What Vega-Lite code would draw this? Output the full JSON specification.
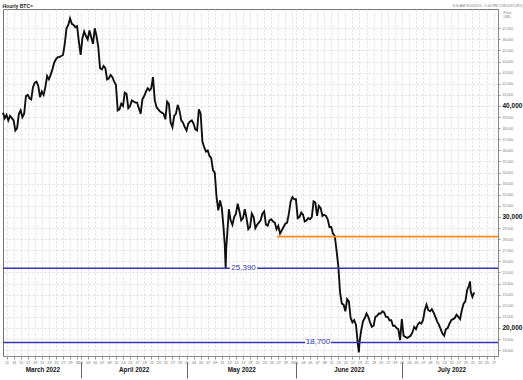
{
  "$schema": "https://vega.github.io/schema/vega-lite/v6.json",
  "autosize": {"type": "none"},
  "width": 495,
  "height": 347,
  "padding": {"left": 3, "top": 9, "right": 25, "bottom": 24},
  "background": "white",
  "config": {
    "font": "Liberation Sans",
    "view": {"stroke": "#777", "strokeWidth": 1}
  },
  "datasets": {
    "price": [
      {"t":"2022-03-10T00:00","p":39400},{"t":"2022-03-10T12:00","p":38900},
      {"t":"2022-03-11T00:00","p":39200},{"t":"2022-03-11T12:00","p":38700},
      {"t":"2022-03-12T00:00","p":39100},{"t":"2022-03-12T12:00","p":38900},
      {"t":"2022-03-13T00:00","p":38700},{"t":"2022-03-13T12:00","p":37800},
      {"t":"2022-03-14T00:00","p":38000},{"t":"2022-03-14T12:00","p":39300},
      {"t":"2022-03-15T00:00","p":39600},{"t":"2022-03-15T12:00","p":39000},
      {"t":"2022-03-16T00:00","p":39300},{"t":"2022-03-16T12:00","p":40900},
      {"t":"2022-03-17T00:00","p":41000},{"t":"2022-03-17T12:00","p":40700},
      {"t":"2022-03-18T00:00","p":40600},{"t":"2022-03-18T12:00","p":41700},
      {"t":"2022-03-19T00:00","p":42100},{"t":"2022-03-19T12:00","p":42200},
      {"t":"2022-03-20T00:00","p":41800},{"t":"2022-03-20T12:00","p":40800},
      {"t":"2022-03-21T00:00","p":41300},{"t":"2022-03-21T12:00","p":41000},
      {"t":"2022-03-22T00:00","p":41700},{"t":"2022-03-22T12:00","p":42700},
      {"t":"2022-03-23T00:00","p":42400},{"t":"2022-03-23T12:00","p":42800},
      {"t":"2022-03-24T00:00","p":43300},{"t":"2022-03-24T12:00","p":43900},
      {"t":"2022-03-25T00:00","p":44200},{"t":"2022-03-25T12:00","p":44400},
      {"t":"2022-03-26T00:00","p":44400},{"t":"2022-03-26T12:00","p":44500},
      {"t":"2022-03-27T00:00","p":44600},{"t":"2022-03-27T12:00","p":45600},
      {"t":"2022-03-28T00:00","p":47000},{"t":"2022-03-28T12:00","p":47300},
      {"t":"2022-03-29T00:00","p":47900},{"t":"2022-03-29T12:00","p":47400},
      {"t":"2022-03-30T00:00","p":47300},{"t":"2022-03-30T12:00","p":47100},
      {"t":"2022-03-31T00:00","p":47200},{"t":"2022-03-31T12:00","p":45800},
      {"t":"2022-04-01T00:00","p":44600},{"t":"2022-04-01T12:00","p":46100},
      {"t":"2022-04-02T00:00","p":46700},{"t":"2022-04-02T12:00","p":46300},
      {"t":"2022-04-03T00:00","p":46000},{"t":"2022-04-03T12:00","p":46800},
      {"t":"2022-04-04T00:00","p":46200},{"t":"2022-04-04T12:00","p":45600},
      {"t":"2022-04-05T00:00","p":47000},{"t":"2022-04-05T12:00","p":46300},
      {"t":"2022-04-06T00:00","p":45300},{"t":"2022-04-06T12:00","p":43400},
      {"t":"2022-04-07T00:00","p":43300},{"t":"2022-04-07T12:00","p":43600},
      {"t":"2022-04-08T00:00","p":43400},{"t":"2022-04-08T12:00","p":42400},
      {"t":"2022-04-09T00:00","p":42500},{"t":"2022-04-09T12:00","p":42800},
      {"t":"2022-04-10T00:00","p":42600},{"t":"2022-04-10T12:00","p":42200},
      {"t":"2022-04-11T00:00","p":41900},{"t":"2022-04-11T12:00","p":39600},
      {"t":"2022-04-12T00:00","p":39700},{"t":"2022-04-12T12:00","p":40200},
      {"t":"2022-04-13T00:00","p":40000},{"t":"2022-04-13T12:00","p":41200},
      {"t":"2022-04-14T00:00","p":41100},{"t":"2022-04-14T12:00","p":39800},
      {"t":"2022-04-15T00:00","p":40000},{"t":"2022-04-15T12:00","p":40500},
      {"t":"2022-04-16T00:00","p":40400},{"t":"2022-04-16T12:00","p":40300},
      {"t":"2022-04-17T00:00","p":40300},{"t":"2022-04-17T12:00","p":39800},
      {"t":"2022-04-18T00:00","p":39300},{"t":"2022-04-18T12:00","p":40600},
      {"t":"2022-04-19T00:00","p":40900},{"t":"2022-04-19T12:00","p":41300},
      {"t":"2022-04-20T00:00","p":41600},{"t":"2022-04-20T12:00","p":41400},
      {"t":"2022-04-21T00:00","p":41600},{"t":"2022-04-21T12:00","p":42600},
      {"t":"2022-04-22T00:00","p":40500},{"t":"2022-04-22T12:00","p":39900},
      {"t":"2022-04-23T00:00","p":39700},{"t":"2022-04-23T12:00","p":39500},
      {"t":"2022-04-24T00:00","p":39400},{"t":"2022-04-24T12:00","p":39300},
      {"t":"2022-04-25T00:00","p":38800},{"t":"2022-04-25T12:00","p":40400},
      {"t":"2022-04-26T00:00","p":40200},{"t":"2022-04-26T12:00","p":38500},
      {"t":"2022-04-27T00:00","p":38100},{"t":"2022-04-27T12:00","p":39100},
      {"t":"2022-04-28T00:00","p":39300},{"t":"2022-04-28T12:00","p":40100},
      {"t":"2022-04-29T00:00","p":39600},{"t":"2022-04-29T12:00","p":38700},
      {"t":"2022-04-30T00:00","p":38500},{"t":"2022-04-30T12:00","p":38100},
      {"t":"2022-05-01T00:00","p":37800},{"t":"2022-05-01T12:00","p":38400},
      {"t":"2022-05-02T00:00","p":38600},{"t":"2022-05-02T12:00","p":38700},
      {"t":"2022-05-03T00:00","p":38400},{"t":"2022-05-03T12:00","p":37900},
      {"t":"2022-05-04T00:00","p":37800},{"t":"2022-05-04T12:00","p":39700},
      {"t":"2022-05-05T00:00","p":39300},{"t":"2022-05-05T12:00","p":36800},
      {"t":"2022-05-06T00:00","p":36300},{"t":"2022-05-06T12:00","p":35900},
      {"t":"2022-05-07T00:00","p":36000},{"t":"2022-05-07T12:00","p":35500},
      {"t":"2022-05-08T00:00","p":35300},{"t":"2022-05-08T12:00","p":34200},
      {"t":"2022-05-09T00:00","p":34000},{"t":"2022-05-09T12:00","p":31800},
      {"t":"2022-05-10T00:00","p":30600},{"t":"2022-05-10T12:00","p":31500},
      {"t":"2022-05-11T00:00","p":30800},{"t":"2022-05-11T12:00","p":29000},
      {"t":"2022-05-11T20:00","p":27500},{"t":"2022-05-12T02:00","p":25400},
      {"t":"2022-05-12T06:00","p":27200},{"t":"2022-05-12T12:00","p":28300},
      {"t":"2022-05-13T00:00","p":30700},{"t":"2022-05-13T12:00","p":29700},
      {"t":"2022-05-14T00:00","p":29300},{"t":"2022-05-14T12:00","p":30000},
      {"t":"2022-05-15T00:00","p":30300},{"t":"2022-05-15T12:00","p":31200},
      {"t":"2022-05-16T00:00","p":30500},{"t":"2022-05-16T12:00","p":29700},
      {"t":"2022-05-17T00:00","p":29900},{"t":"2022-05-17T12:00","p":30700},
      {"t":"2022-05-18T00:00","p":29900},{"t":"2022-05-18T12:00","p":28900},
      {"t":"2022-05-19T00:00","p":29100},{"t":"2022-05-19T12:00","p":30300},
      {"t":"2022-05-20T00:00","p":30000},{"t":"2022-05-20T12:00","p":29000},
      {"t":"2022-05-21T00:00","p":29300},{"t":"2022-05-21T12:00","p":29500},
      {"t":"2022-05-22T00:00","p":29700},{"t":"2022-05-22T12:00","p":30300},
      {"t":"2022-05-23T00:00","p":30500},{"t":"2022-05-23T12:00","p":29300},
      {"t":"2022-05-24T00:00","p":29200},{"t":"2022-05-24T12:00","p":29700},
      {"t":"2022-05-25T00:00","p":29800},{"t":"2022-05-25T12:00","p":29600},
      {"t":"2022-05-26T00:00","p":29500},{"t":"2022-05-26T12:00","p":28900},
      {"t":"2022-05-27T00:00","p":29200},{"t":"2022-05-27T12:00","p":28500},
      {"t":"2022-05-28T00:00","p":28800},{"t":"2022-05-28T12:00","p":29100},
      {"t":"2022-05-29T00:00","p":29400},{"t":"2022-05-29T12:00","p":29500},
      {"t":"2022-05-30T00:00","p":30300},{"t":"2022-05-30T12:00","p":31400},
      {"t":"2022-05-31T00:00","p":31800},{"t":"2022-05-31T12:00","p":31600},
      {"t":"2022-06-01T00:00","p":31600},{"t":"2022-06-01T12:00","p":29900},
      {"t":"2022-06-02T00:00","p":30000},{"t":"2022-06-02T12:00","p":30400},
      {"t":"2022-06-03T00:00","p":30200},{"t":"2022-06-03T12:00","p":29600},
      {"t":"2022-06-04T00:00","p":29700},{"t":"2022-06-04T12:00","p":29900},
      {"t":"2022-06-05T00:00","p":29800},{"t":"2022-06-05T12:00","p":30000},
      {"t":"2022-06-06T00:00","p":31400},{"t":"2022-06-06T12:00","p":31300},
      {"t":"2022-06-07T00:00","p":30100},{"t":"2022-06-07T12:00","p":31000},
      {"t":"2022-06-08T00:00","p":30800},{"t":"2022-06-08T12:00","p":30100},
      {"t":"2022-06-09T00:00","p":30200},{"t":"2022-06-09T12:00","p":30100},
      {"t":"2022-06-10T00:00","p":29800},{"t":"2022-06-10T12:00","p":29100},
      {"t":"2022-06-11T00:00","p":29100},{"t":"2022-06-11T12:00","p":28500},
      {"t":"2022-06-12T00:00","p":28300},{"t":"2022-06-12T12:00","p":27000},
      {"t":"2022-06-13T00:00","p":25600},{"t":"2022-06-13T12:00","p":23200},
      {"t":"2022-06-14T00:00","p":22200},{"t":"2022-06-14T12:00","p":22100},
      {"t":"2022-06-15T00:00","p":21500},{"t":"2022-06-15T12:00","p":22600},
      {"t":"2022-06-16T00:00","p":22400},{"t":"2022-06-16T12:00","p":20900},
      {"t":"2022-06-17T00:00","p":20500},{"t":"2022-06-17T12:00","p":20700},
      {"t":"2022-06-18T00:00","p":20300},{"t":"2022-06-18T12:00","p":18700},
      {"t":"2022-06-18T20:00","p":17800},
      {"t":"2022-06-19T00:00","p":18700},{"t":"2022-06-19T12:00","p":19800},
      {"t":"2022-06-20T00:00","p":20600},{"t":"2022-06-20T12:00","p":20900},
      {"t":"2022-06-21T00:00","p":21300},{"t":"2022-06-21T12:00","p":21000},
      {"t":"2022-06-22T00:00","p":20500},{"t":"2022-06-22T12:00","p":20100},
      {"t":"2022-06-23T00:00","p":20200},{"t":"2022-06-23T12:00","p":21000},
      {"t":"2022-06-24T00:00","p":21100},{"t":"2022-06-24T12:00","p":21300},
      {"t":"2022-06-25T00:00","p":21300},{"t":"2022-06-25T12:00","p":21500},
      {"t":"2022-06-26T00:00","p":21400},{"t":"2022-06-26T12:00","p":21000},
      {"t":"2022-06-27T00:00","p":21000},{"t":"2022-06-27T12:00","p":20700},
      {"t":"2022-06-28T00:00","p":20700},{"t":"2022-06-28T12:00","p":20200},
      {"t":"2022-06-29T00:00","p":20200},{"t":"2022-06-29T12:00","p":20000},
      {"t":"2022-06-30T00:00","p":19900},{"t":"2022-06-30T12:00","p":18900},
      {"t":"2022-07-01T00:00","p":20800},{"t":"2022-07-01T12:00","p":19300},
      {"t":"2022-07-02T00:00","p":19200},{"t":"2022-07-02T12:00","p":19100},
      {"t":"2022-07-03T00:00","p":19200},{"t":"2022-07-03T12:00","p":19300},
      {"t":"2022-07-04T00:00","p":19600},{"t":"2022-07-04T12:00","p":20100},
      {"t":"2022-07-05T00:00","p":19900},{"t":"2022-07-05T12:00","p":20300},
      {"t":"2022-07-06T00:00","p":20500},{"t":"2022-07-06T12:00","p":20400},
      {"t":"2022-07-07T00:00","p":20700},{"t":"2022-07-07T12:00","p":21600},
      {"t":"2022-07-08T00:00","p":22100},{"t":"2022-07-08T12:00","p":21600},
      {"t":"2022-07-09T00:00","p":21500},{"t":"2022-07-09T12:00","p":21700},
      {"t":"2022-07-10T00:00","p":21400},{"t":"2022-07-10T12:00","p":21000},
      {"t":"2022-07-11T00:00","p":20600},{"t":"2022-07-11T12:00","p":20300},
      {"t":"2022-07-12T00:00","p":19900},{"t":"2022-07-12T12:00","p":19500},
      {"t":"2022-07-13T00:00","p":19300},{"t":"2022-07-13T12:00","p":19900},
      {"t":"2022-07-14T00:00","p":20000},{"t":"2022-07-14T12:00","p":20400},
      {"t":"2022-07-15T00:00","p":20700},{"t":"2022-07-15T12:00","p":20800},
      {"t":"2022-07-16T00:00","p":20900},{"t":"2022-07-16T12:00","p":21200},
      {"t":"2022-07-17T00:00","p":21000},{"t":"2022-07-17T12:00","p":20800},
      {"t":"2022-07-18T00:00","p":21600},{"t":"2022-07-18T12:00","p":22200},
      {"t":"2022-07-19T00:00","p":22400},{"t":"2022-07-19T12:00","p":23400},
      {"t":"2022-07-20T00:00","p":23800},{"t":"2022-07-20T08:00","p":24200},
      {"t":"2022-07-20T12:00","p":23300},
      {"t":"2022-07-21T00:00","p":22800},{"t":"2022-07-21T12:00","p":23200}
    ],
    "levels": [
      {"s":"2022-03-10T00:00","e":"2022-05-13T06:00","p":25390},
      {"s":"2022-05-21T00:00","e":"2022-07-28T06:00","p":25390},
      {"s":"2022-03-10T00:00","e":"2022-06-03T14:00","p":18700},
      {"s":"2022-06-10T22:00","e":"2022-07-28T06:00","p":18700}
    ],
    "orange": [
      {"s":"2022-05-26T15:00","e":"2022-07-28T06:00","p":28230}
    ],
    "labels": [
      {"t":"2022-05-17T04:00","p":25390,"label":"25,390"},
      {"t":"2022-06-07T06:00","p":18700,"label":"18,700"}
    ]
  },
  "resolve": {"axis": {"x": "independent", "y": "independent"}},
  "layer": [
    {
      "data": {"name": "price"},
      "mark": {"type": "line", "color": "#111", "strokeWidth": 1.9, "strokeJoin": "miter"},
      "encoding": {
        "x": {"field": "t", "type": "temporal",
          "scale": {"domain": [{"year":2022,"month":3,"date":10,"hours":0},{"year":2022,"month":7,"date":28,"hours":6}], "nice": false},
          "axis": {"orient": "bottom", "title": null, "tickCount": {"interval": "day", "step": 2}, "format": "%d",
            "labelFontSize": 3.5, "labelColor": "#666", "labelPadding": 1, "labelFlush": false, "labelOverlap": false,
            "tickSize": 3, "tickColor": "#999", "domainColor": "#888",
            "grid": true, "gridColor": "#d6d6d6", "gridDash": [2, 2], "gridWidth": 0.8}},
        "y": {"field": "p", "type": "quantitative",
          "scale": {"domain": [17477, 48738], "nice": false, "zero": false},
          "axis": {"orient": "right",
            "values": [18000,19000,20000,21000,22000,23000,24000,25000,26000,27000,28000,29000,30000,31000,32000,33000,34000,35000,36000,37000,38000,39000,40000,41000,42000,43000,44000,45000,46000,47000],
            "labelExpr": "format(datum.value, ',')",
            "labelFontSize": {"condition": {"test": "datum.value % 10000 === 0", "value": 6.5}, "value": 3.5},
            "labelFontWeight": {"condition": {"test": "datum.value % 10000 === 0", "value": "bold"}, "value": "normal"},
            "labelColor": {"condition": {"test": "datum.value % 10000 === 0", "value": "#111"}, "value": "#777"},
            "labelPadding": 2, "labelFlush": false, "labelOverlap": false, "labelBound": false,
            "tickSize": 2, "tickColor": "#999", "domainColor": "#888",
            "grid": true, "gridColor": "#d6d6d6", "gridDash": [2, 2], "gridWidth": 0.8,
            "title": ["Price", "USD"], "titleAngle": 0, "titleX": 5, "titleY": 1, "titleAlign": "left", "titleBaseline": "top",
            "titleFontSize": 3.5, "titleFontWeight": "normal", "titleColor": "#777", "titleLineHeight": 4.5}}
      }
    },
    {
      "data": {"name": "levels"},
      "mark": {"type": "rule", "color": "#3434b8", "strokeWidth": 1.5},
      "encoding": {
        "x": {"field": "s", "type": "temporal", "axis": null,
          "scale": {"domain": [{"year":2022,"month":3,"date":10,"hours":0},{"year":2022,"month":7,"date":28,"hours":6}], "nice": false}},
        "x2": {"field": "e"},
        "y": {"field": "p", "type": "quantitative",
          "scale": {"domain": [17477, 48738], "nice": false, "zero": false},
          "axis": {"orient": "left", "labels": false, "ticks": false, "domain": false, "grid": false,
            "title": "Hourly BTC=", "titleAngle": 0, "titleX": -1, "titleY": -4, "titleAlign": "left", "titleBaseline": "middle",
            "titleFontSize": 5, "titleFontWeight": "bold", "titleColor": "#222"}}
      }
    },
    {
      "data": {"name": "orange"},
      "mark": {"type": "rule", "color": "#ff8c1a", "strokeWidth": 1.8},
      "encoding": {
        "x": {"field": "s", "type": "temporal",
          "scale": {"domain": [{"year":2022,"month":3,"date":10,"hours":0},{"year":2022,"month":7,"date":28,"hours":6}], "nice": false},
          "axis": {"orient": "bottom", "offset": 6, "title": null, "domain": false, "grid": false,
            "values": [{"year":2022,"month":3,"date":21,"hours":4},{"year":2022,"month":4,"date":1},{"year":2022,"month":4,"date":16},{"year":2022,"month":5,"date":1},{"year":2022,"month":5,"date":16,"hours":12},{"year":2022,"month":6,"date":1},{"year":2022,"month":6,"date":16},{"year":2022,"month":7,"date":1},{"year":2022,"month":7,"date":15}],
            "labelExpr": "date(datum.value) === 1 ? '' : timeFormat(datum.value, '%B %Y')",
            "tickSize": 16, "tickColor": "#666", "tickWidth": 1,
            "tickOpacity": {"condition": {"test": "date(datum.value) === 1", "value": 1}, "value": 0},
            "labelPadding": -12, "labelFontSize": 6.3, "labelFontWeight": "bold", "labelColor": "#111",
            "labelFlush": false, "labelOverlap": false}},
        "x2": {"field": "e"},
        "y": {"field": "p", "type": "quantitative", "axis": null,
          "scale": {"domain": [17477, 48738], "nice": false, "zero": false}}
      }
    },
    {
      "data": {"name": "labels"},
      "mark": {"type": "text", "color": "#3434b8", "fontSize": 8, "align": "center", "baseline": "middle"},
      "encoding": {
        "x": {"field": "t", "type": "temporal",
          "scale": {"domain": [{"year":2022,"month":3,"date":10,"hours":0},{"year":2022,"month":7,"date":28,"hours":6}], "nice": false},
          "axis": {"orient": "top", "labels": false, "ticks": false, "domain": false, "grid": false,
            "title": "3:00 AM 3/10/2022 - 1:00 PM 7/28/2022 (NY)", "titleX": 519, "titleY": -4, "titleAlign": "right",
            "titleAnchor": null, "titleBaseline": "middle", "titleFontSize": 3.5, "titleFontWeight": "normal", "titleColor": "#777"}},
        "y": {"field": "p", "type": "quantitative", "axis": null,
          "scale": {"domain": [17477, 48738], "nice": false, "zero": false}},
        "text": {"field": "label"}
      }
    }
  ]
}
